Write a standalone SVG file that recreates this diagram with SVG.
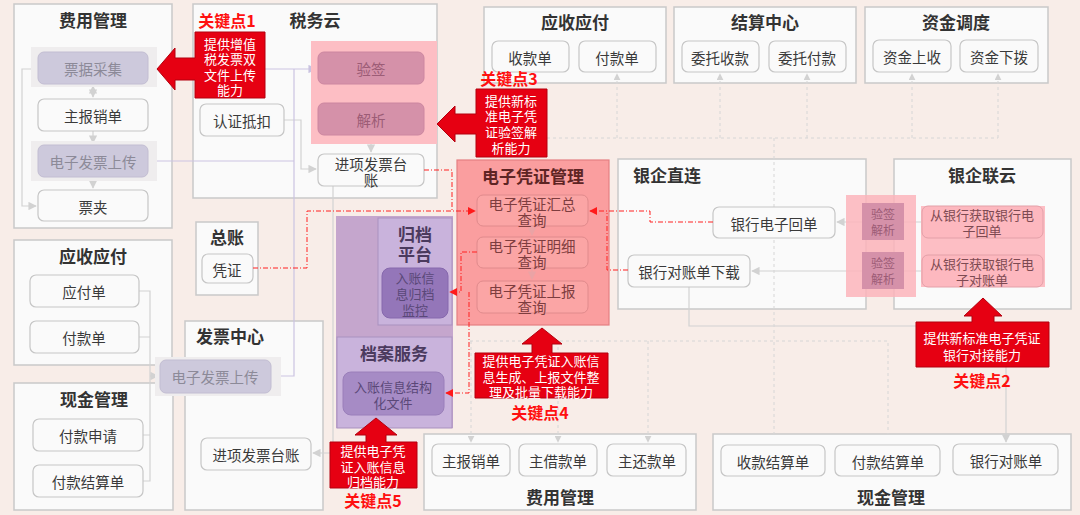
<svg xmlns="http://www.w3.org/2000/svg" width="1080" height="515" viewBox="0 0 1080 515">
<defs>
<style>
text{font-family:"Noto Sans CJK SC","Noto Sans",sans-serif;text-anchor:middle;dominant-baseline:central}
.panel{fill:#fafafa;stroke:#c9c9c9;stroke-width:1.5}
.node{fill:#fafafa;stroke:#c6c6c6;stroke-width:1.2}
.t{font-size:14.5px;fill:#3a3a3a}
.tf{font-size:14.5px;fill:#8c8a98}
.title{font-size:17px;font-weight:bold;fill:#333}
.band{fill:#efedee}
.fade{fill:#cdc9dc;stroke:#c2bdd2;stroke-width:1}
.pinkarea{fill:#fdbec4}
.yq{fill:#d591a9;stroke:#cc86a0;stroke-width:1}
.tyq{font-size:14.5px;fill:#9c5c76}
.call{fill:#e60012;stroke:#b3000e;stroke-width:1}
.tw{font-size:13px;fill:#fff}
.kp{font-size:16px;font-weight:bold;fill:#ff1010}
.evp{fill:#fa9e9f;stroke:#e47f82;stroke-width:1.2}
.evn{fill:#fba5a5;stroke:#e08a8c;stroke-width:1}
.tev{font-size:14.5px;fill:#7e3d3f}
.purp{fill:#c5a6cd}
.purin{fill:#c9b3dc;stroke:#a991bf;stroke-width:1}
.tp{font-size:17px;font-weight:bold;fill:#4b3a5e}
.tpn{font-size:13px;fill:#5a4878}
.gl{fill:none;stroke:#d2d2d2;stroke-width:1.2}
.gd{fill:none;stroke:#d6d6d6;stroke-width:1;stroke-dasharray:3 3}
.lv{fill:none;stroke:#cbc4e2;stroke-width:1.2}
.rd{fill:none;stroke:#ff2020;stroke-width:1;stroke-dasharray:5 2 1 2}
.ev{fill:none;stroke:#eaa3a5;stroke-width:1.2}
</style>
<marker id="ag" viewBox="0 0 10 10" refX="9" refY="5" markerWidth="7" markerHeight="7" orient="auto-start-reverse"><path d="M0,0 L10,5 L0,10 Z" fill="#d2d2d2"/></marker>
<marker id="al" viewBox="0 0 10 10" refX="9" refY="5" markerWidth="7" markerHeight="7" orient="auto"><path d="M0,0 L10,5 L0,10 Z" fill="#c9c2e0"/></marker>
<marker id="ar" viewBox="0 0 10 10" refX="9" refY="5" markerWidth="8" markerHeight="8" orient="auto"><path d="M0,0 L10,5 L0,10 Z" fill="#ff1a1a"/></marker>
<marker id="ap" viewBox="0 0 10 10" refX="9" refY="5" markerWidth="7" markerHeight="7" orient="auto"><path d="M0,0 L10,5 L0,10 Z" fill="#eaa3a5"/></marker>
</defs>
<rect width="1080" height="515" fill="#f8ede8"/>

<!-- panels -->
<g id="fy-left">
<rect class="panel" x="14" y="4" width="158" height="224"/>
<text class="title" x="93" y="19">费用管理</text>
</g>
<g id="swy">
<rect class="panel" x="193" y="4" width="244" height="194"/>
<text class="title" x="315" y="19">税务云</text>
</g>
<g id="ysyf-top">
<rect class="panel" x="484" y="7" width="182" height="76"/>
<text class="title" x="575" y="21">应收应付</text>
</g>
<g id="jszx">
<rect class="panel" x="674" y="7" width="182" height="76"/>
<text class="title" x="765" y="21">结算中心</text>
</g>
<g id="zjdd">
<rect class="panel" x="865" y="7" width="183" height="76"/>
<text class="title" x="956" y="21">资金调度</text>
</g>
<g id="ysyf-left">
<rect class="panel" x="14" y="240" width="158" height="125"/>
<text class="title" x="93" y="255">应收应付</text>
</g>
<g id="xjgl-left">
<rect class="panel" x="14" y="383" width="159" height="127"/>
<text class="title" x="94" y="398">现金管理</text>
</g>
<g id="zz">
<rect class="panel" x="196" y="222" width="62" height="73"/>
<text class="title" x="227" y="236">总账</text>
</g>
<g id="fpzx">
<rect class="panel" x="185" y="321" width="138" height="189"/>
<text class="title" x="230" y="335">发票中心</text>
</g>
<g id="yqzl">
<rect class="panel" x="618" y="159" width="248" height="150"/>
<text class="title" x="633" y="174" style="text-anchor:start">银企直连</text>
</g>
<g id="yqly">
<rect class="panel" x="894" y="159" width="177" height="150"/>
<text class="title" x="982" y="174">银企联云</text>
</g>
<g id="fy-bottom">
<rect class="panel" x="424" y="434" width="272" height="76"/>
<text class="title" x="560" y="496">费用管理</text>
</g>
<g id="xjgl-bottom">
<rect class="panel" x="713" y="434" width="358" height="76"/>
<text class="title" x="891" y="496">现金管理</text>
</g>

<!-- connectors -->
<g id="connectors">
<path class="gl" d="M93,86 V97" marker-start="url(#ag)" marker-end="url(#ag)"/>
<path class="gl" d="M93,131 V143" marker-end="url(#ag)"/>
<path class="gl" d="M93,177 V188" marker-end="url(#ag)"/>
<path class="gl" d="M38,69 H22 V206 H36" marker-end="url(#ag)"/>
<path class="gl" d="M371,84 V101" marker-end="url(#ag)"/>
<path class="gl" d="M371,135 V152" marker-end="url(#ag)"/>
<path class="gl" d="M284,120 H301 V169 H316" marker-end="url(#ag)"/>
<path class="gl" d="M333,186 V453 H313" marker-end="url(#ag)"/>
<path class="gl" d="M139,291 H150 V481 H143 M139,337 H150 M143,435 H150"/>
<path class="gl" d="M150,376 H158" marker-end="url(#ag)"/>
<path class="gl" d="M922,222 H837" marker-end="url(#ag)"/>
<path class="gl" d="M922,271 H752" marker-end="url(#ag)"/>
<path class="gl" d="M689,287 V326 H1006 V442" marker-end="url(#ag)"/>
<path class="gd" d="M547,138 H998"/>
<path class="gd" d="M617,138 V74" marker-end="url(#ag)"/>
<path class="gd" d="M720,138 V74" marker-end="url(#ag)"/>
<path class="gd" d="M807,138 V74" marker-end="url(#ag)"/>
<path class="gd" d="M912,138 V74" marker-end="url(#ag)"/>
<path class="gd" d="M998,138 V74" marker-end="url(#ag)"/>
<path class="gd" d="M774,138 V434"/>
<path class="gd" d="M470,341 H888 V434"/>
<path class="gd" d="M471,341 V442" marker-end="url(#ag)"/>
<path class="gd" d="M558,341 V442" marker-end="url(#ag)"/>
<path class="gd" d="M648,341 V442" marker-end="url(#ag)"/>
<path class="lv" d="M148,69 H316" marker-end="url(#al)"/>
<path class="lv" d="M148,161 H294"/>
<path class="lv" d="M271,376 H294 V69"/>
</g>

<!-- 费用管理 left nodes -->
<g id="pjcj"><rect class="band" x="31" y="47" width="126" height="40"/><rect class="fade" x="38" y="52" width="110" height="32" rx="6"/><text class="tf" x="93" y="68">票据采集</text></g>
<g id="zbxd"><rect class="node" x="38" y="99" width="110" height="32" rx="6"/><text class="t" x="93" y="115">主报销单</text></g>
<g id="dzfpsc1"><rect class="band" x="31" y="141" width="126" height="40"/><rect class="fade" x="38" y="145" width="110" height="32" rx="6"/><text class="tf" x="93" y="161">电子发票上传</text></g>
<g id="pj"><rect class="node" x="38" y="190" width="110" height="31" rx="6"/><text class="t" x="93" y="206">票夹</text></g>

<!-- 税务云 nodes -->
<g id="swy-pink"><rect class="pinkarea" x="311" y="41" width="126" height="103"/></g>
<g id="yq"><rect class="yq" x="318" y="52" width="106" height="32" rx="6"/><text class="tyq" x="371" y="68">验签</text></g>
<g id="jx"><rect class="yq" x="318" y="103" width="106" height="32" rx="6"/><text class="tyq" x="371" y="119">解析</text></g>
<g id="rzdk"><rect class="node" x="200" y="104" width="84" height="32" rx="6"/><text class="t" x="242" y="120">认证抵扣</text></g>
<g id="jxfptz1"><rect class="node" x="318" y="154" width="106" height="32" rx="6"/><text class="t" x="371" y="163">进项发票台</text><text class="t" x="371" y="179">账</text></g>

<!-- top modules nodes -->
<g id="skd"><rect class="node" x="492" y="41" width="77" height="31" rx="6"/><text class="t" x="530" y="57">收款单</text></g>
<g id="fkd-top"><rect class="node" x="579" y="41" width="77" height="31" rx="6"/><text class="t" x="617" y="57">付款单</text></g>
<g id="wtsk"><rect class="node" x="682" y="41" width="77" height="31" rx="6"/><text class="t" x="720" y="57">委托收款</text></g>
<g id="wtfk"><rect class="node" x="769" y="41" width="77" height="31" rx="6"/><text class="t" x="807" y="57">委托付款</text></g>
<g id="zjss"><rect class="node" x="873" y="40" width="78" height="32" rx="6"/><text class="t" x="912" y="56">资金上收</text></g>
<g id="zjxb"><rect class="node" x="960" y="40" width="78" height="32" rx="6"/><text class="t" x="999" y="56">资金下拨</text></g>

<!-- left lower nodes -->
<g id="yfd"><rect class="node" x="30" y="275" width="109" height="32" rx="6"/><text class="t" x="84" y="291">应付单</text></g>
<g id="fkd-left"><rect class="node" x="30" y="321" width="109" height="32" rx="6"/><text class="t" x="84" y="337">付款单</text></g>
<g id="fksq"><rect class="node" x="33" y="419" width="110" height="32" rx="6"/><text class="t" x="88" y="435">付款申请</text></g>
<g id="fkjsd-left"><rect class="node" x="33" y="465" width="110" height="32" rx="6"/><text class="t" x="88" y="481">付款结算单</text></g>
<g id="pz"><rect class="node" x="202" y="254" width="51" height="29" rx="6"/><text class="t" x="227" y="269">凭证</text></g>
<g id="dzfpsc2"><rect class="band" x="155" y="357" width="126" height="39"/><rect class="fade" x="160" y="360" width="111" height="33" rx="6"/><text class="tf" x="215" y="376">电子发票上传</text></g>
<g id="jxfptz2"><rect class="node" x="201" y="438" width="110" height="32" rx="6"/><text class="t" x="256" y="454">进项发票台账</text></g>

<!-- archive -->
<g id="gd-outer"><rect class="purp" x="336" y="216" width="117" height="212"/></g>
<g id="gdpt">
<rect class="purin" x="378" y="218" width="74" height="107"/>
<text class="tp" x="415" y="233">归档</text><text class="tp" x="415" y="253">平台</text>
<rect x="382" y="268" width="66" height="50" rx="8" fill="#9476b9" stroke="#8668ad" stroke-width="1"/>
<text class="tpn" x="415" y="277">入账信</text><text class="tpn" x="415" y="293">息归档</text><text class="tpn" x="415" y="309">监控</text>
</g>
<g id="dafw">
<rect class="purin" x="337" y="337" width="115" height="91"/>
<text class="tp" x="394" y="352">档案服务</text>
<rect x="343" y="372" width="101" height="43" rx="8" fill="#a68bc5" stroke="#9a7fba" stroke-width="1"/>
<text class="tpn" x="393" y="386">入账信息结构</text><text class="tpn" x="393" y="402">化文件</text>
</g>

<!-- 电子凭证管理 -->
<g id="dzpzgl">
<rect class="evp" x="457" y="160" width="152" height="165"/>
<text class="title" x="533" y="175" style="fill:#5e2424">电子凭证管理</text>
<rect class="evn" x="477" y="195" width="111" height="31" rx="6"/>
<text class="tev" x="532" y="203">电子凭证汇总</text><text class="tev" x="532" y="219">查询</text>
<rect class="evn" x="477" y="237" width="111" height="31" rx="6"/>
<text class="tev" x="532" y="245">电子凭证明细</text><text class="tev" x="532" y="261">查询</text>
<rect class="evn" x="477" y="281" width="111" height="32" rx="6"/>
<text class="tev" x="532" y="290">电子凭证上报</text><text class="tev" x="532" y="306">查询</text>
<path class="ev" d="M532,226 V235" marker-end="url(#ap)"/>
<path class="ev" d="M532,268 V279" marker-end="url(#ap)"/>
</g>

<!-- bank nodes -->
<g id="yhdzhd"><rect class="node" x="713" y="207" width="122" height="31" rx="6"/><text class="t" x="774" y="223">银行电子回单</text></g>
<g id="yhdzdxz"><rect class="node" x="628" y="255" width="122" height="32" rx="6"/><text class="t" x="689" y="271">银行对账单下载</text></g>
<g id="yqly-nodes">
<rect class="pinkarea" x="921" y="206" width="124" height="81"/>
<rect x="922" y="206" width="121" height="32" rx="6" fill="#fdb8bf" stroke="#e3a0a8" stroke-width="1"/>
<text x="982" y="214" style="font-size:13px;fill:#7d4a52">从银行获取银行电</text><text x="982" y="230" style="font-size:13px;fill:#7d4a52">子回单</text>
<rect x="922" y="255" width="121" height="32" rx="6" fill="#fdb8bf" stroke="#e3a0a8" stroke-width="1"/>
<text x="982" y="263" style="font-size:13px;fill:#7d4a52">从银行获取银行电</text><text x="982" y="279" style="font-size:13px;fill:#7d4a52">子对账单</text>
</g>
<g id="yqjx">
<rect x="846" y="195" width="70" height="102" fill="#fbb4bb" opacity="0.85"/>
<rect x="862" y="203" width="42" height="37" fill="#d591a9"/>
<text x="883" y="213" style="font-size:12px;fill:#9c5c76">验签</text><text x="883" y="229" style="font-size:12px;fill:#9c5c76">解析</text>
<rect x="862" y="252" width="42" height="37" fill="#d591a9"/>
<text x="883" y="262" style="font-size:12px;fill:#9c5c76">验签</text><text x="883" y="278" style="font-size:12px;fill:#9c5c76">解析</text>
</g>

<!-- bottom nodes -->
<g id="zbxd2"><rect class="node" x="432" y="444" width="78" height="32" rx="6"/><text class="t" x="471" y="460">主报销单</text></g>
<g id="zjkd"><rect class="node" x="519" y="444" width="78" height="32" rx="6"/><text class="t" x="558" y="460">主借款单</text></g>
<g id="zhkd"><rect class="node" x="607" y="444" width="79" height="32" rx="6"/><text class="t" x="647" y="460">主还款单</text></g>
<g id="skjsd"><rect class="node" x="721" y="445" width="104" height="31" rx="6"/><text class="t" x="773" y="461">收款结算单</text></g>
<g id="fkjsd"><rect class="node" x="835" y="445" width="105" height="31" rx="6"/><text class="t" x="888" y="461">付款结算单</text></g>
<g id="yhdzd"><rect class="node" x="953" y="444" width="105" height="31" rx="6"/><text class="t" x="1006" y="460">银行对账单</text></g>

<!-- red dash-dot connectors -->
<g id="connectors-red">
<path class="rd" d="M253,268 H307 V211 H475" marker-end="url(#ar)"/>
<path class="rd" d="M424,170 H452 V211"/>
<path class="rd" d="M713,222 H650 V211 H590" marker-end="url(#ar)"/>
<path class="rd" d="M628,270 H607 V211"/>
<path class="rd" d="M477,252 H461 V292 H450" marker-end="url(#ar)"/>
<path class="rd" d="M469,292 V393 H446" marker-end="url(#ar)"/>
</g>

<!-- callouts -->
<g id="kp1">
<path class="call" d="M195,32 H265 V98 H195 V80 H175 V90 L157,69 L175,48 V58 H195 Z"/>
<text class="tw" x="230" y="43">提供增值</text><text class="tw" x="230" y="58.5">税发票双</text><text class="tw" x="230" y="74">文件上传</text><text class="tw" x="230" y="89">能力</text>
<text class="kp" x="227" y="20">关键点1</text>
</g>
<g id="kp3">
<path class="call" d="M476,89 H547 V157 H476 V134 H455 V142 L437,124 L455,106 V114 H476 Z"/>
<text class="tw" x="511" y="100">提供新标</text><text class="tw" x="511" y="115.5">准电子凭</text><text class="tw" x="511" y="131">证验签解</text><text class="tw" x="511" y="147">析能力</text>
<text class="kp" x="509" y="78">关键点3</text>
</g>
<g id="kp2">
<path class="call" d="M916,322 H972 V316 H964 L983,298 L1002,316 H994 V322 H1049 V367 H916 Z"/>
<text class="tw" x="982" y="337">提供新标准电子凭证</text><text class="tw" x="982" y="354">银行对接能力</text>
<text class="kp" x="982" y="380">关键点2</text>
</g>
<g id="kp4">
<path class="call" d="M475,353 H532 V344 H522 L542,328 L562,344 H552 V353 H608 V398 H475 Z"/>
<text class="tw" x="541" y="360">提供电子凭证入账信</text><text class="tw" x="541" y="376">息生成、上报文件整</text><text class="tw" x="541" y="391">理及批量下载能力</text>
<text class="kp" x="540" y="412">关键点4</text>
</g>
<g id="kp5">
<path class="call" d="M330,442 H366 V435 H355 L376,418 L397,435 H386 V442 H417 V488 H330 Z"/>
<text class="tw" x="373" y="450">提供电子凭</text><text class="tw" x="373" y="466">证入账信息</text><text class="tw" x="373" y="481">归档能力</text>
<text class="kp" x="373" y="500">关键点5</text>
</g>
</svg>
